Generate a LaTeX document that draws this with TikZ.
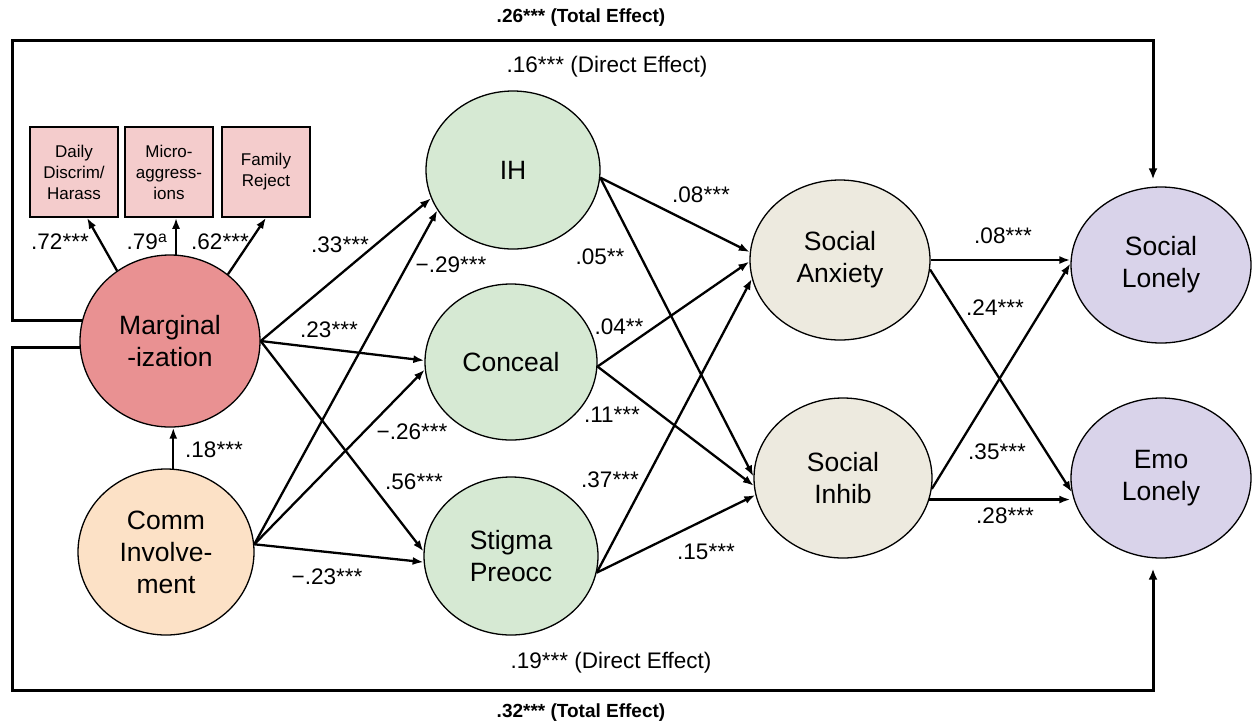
\documentclass[tikz,border=0pt]{standalone}
\usepackage{fontspec}
\setmainfont{Liberation Sans}
\usetikzlibrary{shapes.geometric,arrows.meta}
\definecolor{margc}{HTML}{E99192}
\definecolor{boxc}{HTML}{F4CCCC}
\definecolor{commc}{HTML}{FCE1C6}
\definecolor{medc}{HTML}{D6E9D3}
\definecolor{sac}{HTML}{EDEADF}
\definecolor{lonc}{HTML}{D9D3EA}
\begin{document}
\begin{tikzpicture}[x=1pt,y=-1pt,
  lat/.style={ellipse,draw=black,line width=1.3pt,inner sep=0pt,align=center,font=\fontsize{26.5}{32}\selectfont},
  ind/.style={rectangle,draw=black,line width=1.5pt,fill=boxc,minimum width=88pt,minimum height=90pt,inner sep=0pt,align=center,font=\fontsize{17}{21}\selectfont},
  conn/.style={line width=2.3pt,-{Latex[length=11pt,width=8pt]}},
  fr/.style={line width=3pt,-{Latex[length=11pt,width=9pt]}},
  lbl/.style={font=\fontsize{22.5}{27}\selectfont,inner sep=0pt},
  tot/.style={font=\bfseries\fontsize{19}{23}\selectfont,inner sep=0pt}
]
\useasboundingbox[fill=white] (0,0) rectangle (1256,724);

% latent nodes
\node[lat,fill=margc,minimum width=180pt,minimum height=172pt] (marg) at (170,341) {Marginal\\-ization};
\node[lat,fill=commc,minimum width=176pt,minimum height=166pt] (comm) at (166,552) {Comm\\Involve-\\ment};
\node[lat,fill=medc,minimum width=174pt,minimum height=158pt] (ih) at (513,170) {IH};
\node[lat,fill=medc,minimum width=172pt,minimum height=156pt] (conceal) at (511,362) {Conceal};
\node[lat,fill=medc,minimum width=174pt,minimum height=158pt] (stigma) at (511,556) {Stigma\\Preocc};
\node[lat,fill=sac,minimum width=180pt,minimum height=160pt] (sa) at (840,260) {Social\\Anxiety};
\node[lat,fill=sac,minimum width=178pt,minimum height=160pt] (si) at (843,478) {Social\\Inhib};
\node[lat,fill=lonc,minimum width=180pt,minimum height=156pt] (sl) at (1161,265) {Social\\Lonely};
\node[lat,fill=lonc,minimum width=180pt,minimum height=160pt] (el) at (1161,478) {Emo\\Lonely};

% indicators
\node[ind] (daily) at (74,172) {Daily\\Discrim/\\Harass};
\node[ind] (micro) at (169,172) {Micro-\\aggress-\\ions};
\node[ind] (family) at (266,172) {Family\\Reject};

% frame paths
\draw[fr,shorten >=7pt] (marg.167) -| (12,40) -| ([xshift=-8pt]sl.north);
\draw[fr,shorten >=10pt] (marg.184) -| (12,690) -| ([xshift=-8pt]el.south);

% measurement arrows
\draw[conn] (marg.127) -- ([xshift=13pt]daily.south);
\draw[conn] (marg.86) -- (marg.86 |- micro.south);
\draw[conn] (marg.49) -- (family.south);
\draw[conn] (comm.85) -- (comm.85 |- marg.south);

% structural paths
\draw[conn] (marg.east) -- (ih.199);
\draw[conn] (marg.east) -- (conceal.179);
\draw[conn] (marg.east) -- (stigma.177);
\draw[conn] (comm.5) -- (ih.208);
\draw[conn] (comm.5) -- (conceal.185);
\draw[conn] (comm.5) -- (stigma.184);

\draw[conn] (ih.-5) -- (sa.175);
\draw[conn] (ih.-5) -- (si.179);
\draw[conn] (conceal.-3) -- (sa.181);
\draw[conn] (conceal.-3) -- (si.185);
\draw[conn] (stigma.-11) -- (sa.192);
\draw[conn] (stigma.-11) -- (si.191);

\draw[conn] (sa.east) -- (sa.east -| sl.west);
\draw[conn] (sa.-6) -- (el.189);
\draw[conn] (si.-7) -- (sl.179);
\draw[conn] (si.-14) -- (si.-14 -| el.west);

% labels
\node[lbl] (l72) at (60,242) {.72***};
\node[lbl] (l79) at (147,242) {.79\textsuperscript{a}};
\node[lbl] (l62) at (220,242) {.62***};
\node[lbl] (l18) at (214,450) {.18***};
\node[lbl] (l33) at (340,245) {.33***};
\node[lbl] (l29) at (451,265) {−.29***};
\node[lbl] (l23) at (329,330) {.23***};
\node[lbl] (l26) at (412,432) {−.26***};
\node[lbl] (l56) at (414,482) {.56***};
\node[lbl] (lm23) at (327,577) {−.23***};
\node[lbl] (l08a) at (701,195) {.08***};
\node[lbl] (l05) at (600,257) {.05**};
\node[lbl] (l04) at (619,327) {.04**};
\node[lbl] (l11) at (612,415) {.11***};
\node[lbl] (l37) at (610,480) {.37***};
\node[lbl] (l15) at (706,552) {.15***};
\node[lbl] (l08b) at (1003,236) {.08***};
\node[lbl] (l24) at (995,308) {.24***};
\node[lbl] (l35) at (997,452) {.35***};
\node[lbl] (l28) at (1005,516) {.28***};

\node[tot] (ttop) at (581,18) {.26*** (Total Effect)};
\node[lbl] (dtop) at (607,67) {.16*** (Direct Effect)};
\node[lbl] (dbot) at (611,663) {.19*** (Direct Effect)};
\node[tot] (tbot) at (581,713) {.32*** (Total Effect)};
\end{tikzpicture}
\end{document}
